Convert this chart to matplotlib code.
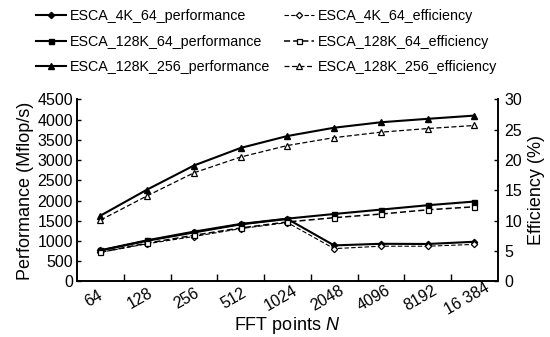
import matplotlib
matplotlib.use("Agg")
import matplotlib.pyplot as plt
import matplotlib.transforms as mtransforms
import numpy as np

plt.rcParams['font.family'] = ['Liberation Sans', 'DejaVu Sans']
plt.rcParams['mathtext.fontset'] = 'custom'
plt.rcParams['mathtext.it'] = 'Liberation Sans:italic'

categories = ["64", "128", "256", "512", "1024", "2048", "4096", "8192", "16 384"]

perf_4k_64 = [765, 1005, 1210, 1410, 1545, 890, 930, 925, 980]
perf_128k_64 = [768, 1016, 1230, 1420, 1552, 1667, 1775, 1883, 1975]
perf_128k_256 = [1625, 2270, 2865, 3300, 3595, 3800, 3935, 4020, 4100]

eff_4k_64 = [4.8, 6.2, 7.4, 8.7, 9.7, 5.4, 5.8, 5.8, 6.1]
eff_128k_64 = [4.8, 6.3, 7.6, 8.8, 9.8, 10.5, 11.1, 11.8, 12.3]
eff_128k_256 = [10.1, 14.1, 17.9, 20.5, 22.4, 23.7, 24.6, 25.2, 25.7]

x = np.arange(len(categories))

fig = plt.figure(figsize=(5.5, 3.37), dpi=100)
ax = fig.add_axes([0.14, 0.165, 0.765, 0.54])
ax2 = ax.twinx()

lw_p = 1.5
lw_e = 0.9
ms = 4
dash = (0, (4, 2))
h1, = ax.plot(x, perf_4k_64, color='black', lw=lw_p, marker='D', ms=3.2, mfc='black')
h2, = ax.plot(x, perf_128k_64, color='black', lw=lw_p, marker='s', ms=3.6, mfc='black')
h3, = ax.plot(x, perf_128k_256, color='black', lw=lw_p, marker='^', ms=ms, mfc='black')
h4, = ax2.plot(x, eff_4k_64, color='black', lw=0.8, ls=dash, marker='D', ms=3.2, mfc='white', mew=0.9)
h5, = ax2.plot(x, eff_128k_64, color='black', lw=1.1, ls=dash, marker='s', ms=3.6, mfc='white', mew=0.9)
h6, = ax2.plot(x, eff_128k_256, color='black', lw=lw_e, ls=dash, marker='^', ms=ms, mfc='white', mew=0.9)

ax.set_xlim(-0.5, len(categories) - 0.5)
ax.set_ylim(0, 4500)
ax2.set_ylim(0, 30)
ax.set_yticks(np.arange(0, 4501, 500))
ax2.set_yticks(np.arange(0, 31, 5))

ax.set_xticks(x[:-1] + 0.5)
ax.set_xticklabels([])
ax.tick_params(axis='x', which='major', direction='in', length=5, width=1)

# category labels, rotated, centred slightly left of each category
offset = mtransforms.ScaledTranslation(-7 / 100, -17 / 100, fig.dpi_scale_trans)
trans = mtransforms.blended_transform_factory(ax.transData, ax.transAxes) + offset
for xi, lab in zip(x, categories):
    ax.text(xi, 0, lab, transform=trans, rotation=30, ha='center', va='center',
            fontsize=11.5)

ax.tick_params(axis='y', labelsize=11.5, direction='in', length=3, width=1, pad=3)
ax2.tick_params(axis='y', labelsize=11.5, direction='in', length=3, width=1, pad=5)

for a in (ax, ax2):
    a.spines['top'].set_visible(False)
    for s in ('left', 'right', 'bottom'):
        a.spines[s].set_linewidth(1.2)

ax.set_ylabel('Performance (Mflop/s)', fontsize=13, labelpad=2)
ax2.set_ylabel('Efficiency (%)', fontsize=13, labelpad=4)
ax.set_xlabel('FFT points $\\mathit{N}$', fontsize=13)
ax.xaxis.set_label_coords(0.5, -0.245)
ax.xaxis.label.set_va('center')

fig.legend([h1, h2, h3, h4, h5, h6],
           ['ESCA_4K_64_performance', 'ESCA_128K_64_performance', 'ESCA_128K_256_performance',
            'ESCA_4K_64_efficiency', 'ESCA_128K_64_efficiency', 'ESCA_128K_256_efficiency'],
           ncol=2, loc='upper left', bbox_to_anchor=(0.055, 0.99), frameon=False,
           fontsize=10.3, handlelength=2.1, handletextpad=0.25, columnspacing=1.0,
           labelspacing=0.8, borderaxespad=0)

fig.savefig('out.png', dpi=100)
